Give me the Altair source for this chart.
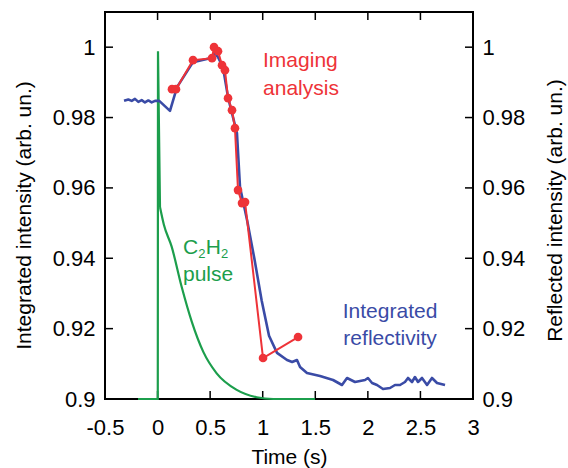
import altair as alt
import pandas as pd

# ---- data ----
blue_t = [-0.319, -0.278, -0.246, -0.215, -0.183, -0.151, -0.120, -0.088, -0.056, -0.024,
          0.016, 0.118, 0.185, 0.337, 0.499, 0.546, 0.575, 0.622, 0.670, 0.717, 0.755,
          0.784, 0.851, 0.920, 0.990, 1.060, 1.136, 1.231, 1.280, 1.326, 1.355, 1.421,
          1.545, 1.669, 1.754, 1.802, 1.878, 1.973, 2.001, 2.040, 2.087, 2.144, 2.211,
          2.258, 2.306, 2.353, 2.382, 2.420, 2.448, 2.477, 2.515, 2.563, 2.610, 2.658, 2.734]
blue_v = [0.98475, 0.98514, 0.98475, 0.98531, 0.98446, 0.98494, 0.98429, 0.98486, 0.98429, 0.98475,
          0.98475, 0.98190, 0.98864, 0.99574, 0.99688, 0.99830, 0.99716, 0.99432, 0.98580, 0.98011, 0.97557,
          0.96023, 0.95085, 0.94000, 0.92800, 0.91800, 0.91310, 0.91108, 0.91050, 0.91108, 0.90909, 0.90739,
          0.90653, 0.90540, 0.90398, 0.90597, 0.90483, 0.90540, 0.90597, 0.90455, 0.90398, 0.90284, 0.90313,
          0.90398, 0.90398, 0.90483, 0.90597, 0.90483, 0.90625, 0.90483, 0.90597, 0.90398, 0.90597, 0.90455, 0.90398]

red_t = [0.137, 0.175, 0.337, 0.518, 0.537, 0.575, 0.613, 0.641, 0.670, 0.708, 0.736,
         0.765, 0.803, 0.832, 1.003, 1.336]
red_v = [0.98807, 0.98807, 0.99631, 0.99688, 1.0000, 0.99886, 0.99489, 0.99347, 0.98551, 0.98210, 0.97699,
         0.95938, 0.95568, 0.95597, 0.91165, 0.91761]

# C2H2 pulse: baseline + sharp spike, then a smooth decay
spike_t = [-0.186, 0.002, 0.004, 0.023]
spike_v = [0.9, 0.9, 0.99886, 0.95455]
decay_t = [0.023, 0.060, 0.134, 0.229, 0.325, 0.435, 0.562, 0.753, 0.943, 1.10, 1.497]
decay_v = [0.95455, 0.9495, 0.9433, 0.9319, 0.9220, 0.9134, 0.9073, 0.9026, 0.9005, 0.9, 0.9]

x_ticks = [-0.5, 0, 0.5, 1, 1.5, 2, 2.5, 3]
y_ticks = [0.9, 0.92, 0.94, 0.96, 0.98, 1.0]

# ---- styling ----
W, H = 368, 387
FONT = "Liberation Sans"
BLUE = "#3a4ba6"
RED = "#ee3338"
GREEN = "#1c9e4c"

xscale = alt.Scale(domain=[-0.5, 3], nice=False, zero=False)
yscale = alt.Scale(domain=[0.9, 1.01], nice=False, zero=False)

blue_df = pd.DataFrame({"t": blue_t, "v": blue_v})
red_df = pd.DataFrame({"t": red_t, "v": red_v})
spike_df = pd.DataFrame({"t": spike_t, "v": spike_v, "i": list(range(len(spike_t)))})
decay_df = pd.DataFrame({"t": decay_t, "v": decay_v})
xt_df = pd.DataFrame({"v": x_ticks})
yt_df = pd.DataFrame({"v": y_ticks})

common_axis = dict(domain=False, ticks=False, tickSize=0, grid=False,
                   labelFont=FONT, labelFontSize=22, labelColor="black",
                   titleFont=FONT, titleFontSize=21, titleFontWeight="normal", titleColor="black",
                   labelExpr="toString(datum.value)")

left_axis = alt.Axis(values=y_ticks, orient="left", labelPadding=10,
                     title="Integrated intensity (arb. un.)", titleAngle=270,
                     titleX=-81, titleY=203, titleAlign="center", titleBaseline="middle",
                     **common_axis)
right_axis = alt.Axis(values=y_ticks, orient="right", labelPadding=9,
                      title="Reflected intensity (arb. un.)", titleAngle=270,
                      titleX=82, titleY=198, titleAlign="center", titleBaseline="middle",
                      **common_axis)
bottom_axis = alt.Axis(values=x_ticks, orient="bottom", labelPadding=18,
                       title="Time (s)", titleX=W / 2, titleY=64, titleAlign="center",
                       titleBaseline="alphabetic", labelFlush=False, labelOverlap=False,
                       **common_axis)

# ticks (inward)
left_ticks = alt.Chart(yt_df).mark_rule(color="black", strokeWidth=1.5).encode(
    y=alt.Y("v:Q", scale=yscale, axis=left_axis), x=alt.value(0), x2=alt.value(8))
right_ticks = alt.Chart(yt_df).mark_rule(color="black", strokeWidth=1.5).encode(
    y=alt.Y("v:Q", scale=yscale, axis=right_axis), x=alt.value(W - 8), x2=alt.value(W))
bottom_ticks = alt.Chart(xt_df).mark_rule(color="black", strokeWidth=1.5).encode(
    x=alt.X("v:Q", scale=xscale, axis=bottom_axis), y=alt.value(H), y2=alt.value(H - 8))
top_ticks = alt.Chart(xt_df).mark_rule(color="black", strokeWidth=1.5).encode(
    x=alt.X("v:Q", scale=xscale, axis=None), y=alt.value(0), y2=alt.value(8))

spike_line = alt.Chart(spike_df).mark_line(color=GREEN, strokeWidth=2.2).encode(
    x=alt.X("t:Q", scale=xscale, axis=None),
    y=alt.Y("v:Q", scale=yscale, axis=None),
    order=alt.Order("i:Q"))
decay_line = alt.Chart(decay_df).mark_line(color=GREEN, strokeWidth=2.2, interpolate="monotone").encode(
    x=alt.X("t:Q", scale=xscale, axis=None),
    y=alt.Y("v:Q", scale=yscale, axis=None))
blue_line = alt.Chart(blue_df).mark_line(color=BLUE, strokeWidth=2.6, strokeJoin="round").encode(
    x=alt.X("t:Q", scale=xscale, axis=None),
    y=alt.Y("v:Q", scale=yscale, axis=None))
red_line = alt.Chart(red_df).mark_line(color=RED, strokeWidth=2).encode(
    x=alt.X("t:Q", scale=xscale, axis=None),
    y=alt.Y("v:Q", scale=yscale, axis=None))
red_pts = alt.Chart(red_df).mark_circle(color=RED, size=75, opacity=1).encode(
    x=alt.X("t:Q", scale=xscale, axis=None),
    y=alt.Y("v:Q", scale=yscale, axis=None))


def label(text, x, y, color, size=21, align="left", dx=0, dy=0):
    return alt.Chart().mark_text(text=text, color=color, font=FONT, fontSize=size,
                                 align=align, baseline="alphabetic", dx=dx, dy=dy).encode(
        x=alt.X(datum=x, scale=xscale, axis=None),
        y=alt.Y(datum=y, scale=yscale, axis=None))


labels = [
    label("Imaging", 1.003, 0.99432, RED),
    label("analysis", 1.003, 0.98636, RED),
    label("Integrated", 2.211, 0.92301, BLUE, align="center"),
    label("reflectivity", 2.211, 0.91534, BLUE, align="center"),
    label("C", 0.242, 0.94120, GREEN),
    label("2", 0.242, 0.94120, GREEN, size=13, dx=15.2, dy=4),
    label("H", 0.242, 0.94120, GREEN, dx=22.8),
    label("2", 0.242, 0.94120, GREEN, size=13, dx=38.0, dy=4),
    label("pulse", 0.242, 0.93352, GREEN),
]

chart = alt.layer(
    bottom_ticks, left_ticks, right_ticks, top_ticks,
    spike_line, decay_line, blue_line, red_line, red_pts, *labels,
).resolve_axis(x="independent", y="independent").properties(
    width=W, height=H,
    padding={"left": 105, "top": 12, "right": 95, "bottom": 69},
    autosize=alt.AutoSizeParams(type="none"),
    background="white",
).configure_view(stroke="black", strokeWidth=2)

chart.save("out.html", embed_options={"renderer": "svg", "actions": False})
